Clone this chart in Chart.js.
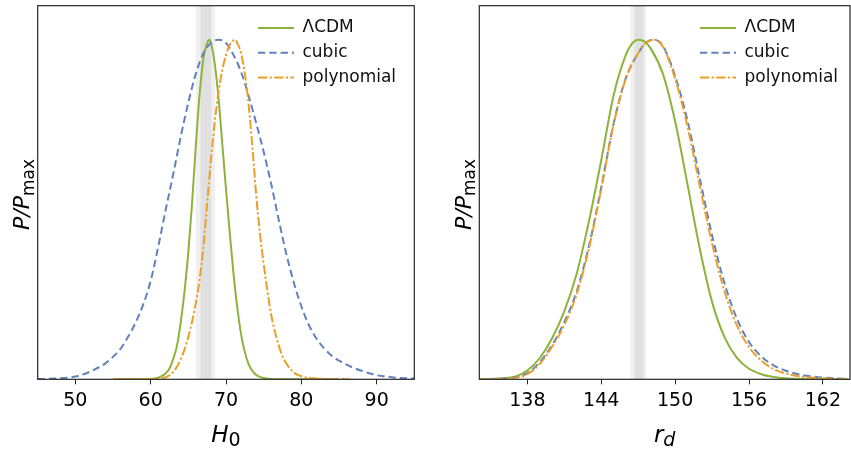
<!DOCTYPE html>
<html><head><meta charset="utf-8">
<script src="https://cdn.jsdelivr.net/npm/chart.js@4/dist/chart.umd.min.js"></script>
<style>
html,body{margin:0;padding:0;background:#fff;}
#wrap{position:relative;width:851px;height:449px;overflow:hidden;background:#fff;}
canvas{position:absolute;top:0;}
#c1{left:0;} #c2{left:425px;}
</style></head><body>
<div id="wrap"><canvas id="c1" width="425" height="449"></canvas><canvas id="c2" width="426" height="449"></canvas></div>
<script>
// ---------- data ----------
const seriesNames = ['ΛCDM', 'cubic', 'polynomial'];

// Left panel: H0
const h0Range = [45, 95];
const h0Ticks = [50, 60, 70, 80, 90];
const h0BandOuter = [66.0, 68.56];
const h0BandInner = [66.61, 68.03];

const h0LcdmX = [55, 58, 60, 61, 61.5, 62, 62.5, 63, 63.5, 64, 64.5, 65, 65.5, 66, 66.5, 67, 67.5, 67.8, 68, 68.5, 69, 69.5, 70, 70.5, 71, 71.5, 72, 72.5, 73, 73.5, 74, 74.5, 75, 76, 78, 85];
const h0LcdmP = [0, 0, 0.001, 0.005, 0.01, 0.018, 0.032, 0.06, 0.1, 0.17, 0.26, 0.375, 0.52, 0.69, 0.84, 0.945, 0.99, 1.0, 0.99, 0.93, 0.83, 0.695, 0.56, 0.43, 0.31, 0.21, 0.133, 0.08, 0.045, 0.025, 0.013, 0.007, 0.004, 0.001, 0, 0];

const h0CubicX = [45, 46, 47, 48, 49, 50, 51, 52, 53, 54, 55, 56, 57, 58, 59, 60, 61, 62, 63, 64, 65, 66, 67, 68, 69, 70, 71, 72, 73, 74, 75, 76, 77, 78, 79, 80, 81, 82, 83, 84, 85, 86, 87, 88, 89, 90, 91, 92, 93, 94, 95];
const h0CubicP = [0.001, 0.001, 0.002, 0.003, 0.005, 0.008, 0.014, 0.023, 0.034, 0.047, 0.066, 0.09, 0.125, 0.167, 0.22, 0.29, 0.39, 0.5, 0.605, 0.715, 0.815, 0.9, 0.96, 0.99, 1.0, 0.99, 0.955, 0.905, 0.835, 0.755, 0.67, 0.575, 0.47, 0.37, 0.285, 0.215, 0.16, 0.12, 0.092, 0.07, 0.055, 0.043, 0.033, 0.025, 0.018, 0.012, 0.009, 0.006, 0.004, 0.003, 0.002];

const h0PolyX = [55, 58, 60, 61, 62, 62.5, 63, 63.5, 64, 64.5, 65, 65.5, 66, 66.5, 67, 67.5, 68, 68.5, 69, 69.5, 70, 70.5, 71, 71.2, 71.5, 72, 72.5, 73, 73.5, 74, 74.5, 75, 75.5, 76, 76.5, 77, 77.5, 78, 78.5, 79, 80, 81, 82, 84, 87];
const h0PolyP = [0, 0.001, 0.001, 0.002, 0.006, 0.012, 0.022, 0.038, 0.06, 0.088, 0.125, 0.17, 0.225, 0.295, 0.39, 0.52, 0.645, 0.755, 0.845, 0.91, 0.955, 0.985, 0.998, 1.0, 0.99, 0.96, 0.9, 0.81, 0.685, 0.545, 0.43, 0.34, 0.26, 0.19, 0.14, 0.1, 0.068, 0.047, 0.032, 0.02, 0.009, 0.004, 0.002, 0.001, 0];

// Right panel: r_d
const rdRange = [134.1, 164.2];
const rdTicks = [138, 144, 150, 156, 162];
const rdBandOuter = [146.38, 147.65];
const rdBandInner = [146.7, 147.43];

const rdLcdmX = [134, 135, 136, 137, 138, 139, 140, 141, 142, 143, 144, 145, 146, 146.5, 147, 147.5, 148, 149, 150, 151, 152, 153, 154, 155, 156, 157, 158, 159, 160, 161, 164];
const rdLcdmP = [0, 0.001, 0.003, 0.008, 0.026, 0.062, 0.12, 0.2, 0.31, 0.465, 0.645, 0.835, 0.955, 0.988, 1.0, 0.995, 0.975, 0.9, 0.76, 0.575, 0.385, 0.228, 0.125, 0.064, 0.031, 0.015, 0.007, 0.003, 0.001, 0, 0];

const rdCubicX = [134, 135, 136, 137, 138, 139, 140, 141, 142, 143, 144, 145, 146, 147, 147.6, 148.3, 149, 150, 151, 152, 153, 154, 155, 156, 157, 158, 159, 160, 161, 162, 163, 164];
const rdCubicP = [0, 0.001, 0.002, 0.006, 0.018, 0.05, 0.1, 0.168, 0.258, 0.392, 0.565, 0.752, 0.887, 0.96, 0.99, 1.0, 0.982, 0.893, 0.762, 0.592, 0.424, 0.284, 0.18, 0.11, 0.067, 0.041, 0.025, 0.015, 0.009, 0.005, 0.003, 0.001];

const rdPolyX = [134, 135, 136, 137, 138, 139, 140, 141, 142, 143, 144, 145, 146, 147, 147.6, 148.3, 149, 150, 151, 152, 153, 154, 155, 156, 157, 158, 159, 160, 161, 162, 163, 164];
const rdPolyP = [0, 0, 0.001, 0.004, 0.015, 0.045, 0.095, 0.16, 0.25, 0.385, 0.56, 0.75, 0.885, 0.96, 0.99, 1.0, 0.98, 0.885, 0.745, 0.57, 0.4, 0.26, 0.16, 0.095, 0.055, 0.03, 0.017, 0.009, 0.005, 0.003, 0.001, 0];

const yRange = [0, 1.1];

// ---------- styles ----------
const FONT = '"DejaVu Sans", "Liberation Sans", sans-serif';
const COLORS = ['#8cb33a', '#6182bd', '#eb9f2a'];
const DASHES = [[], [7.3, 4], [9.3, 2.3, 2.3, 2.3]];
const ORDERS = [3, 2, 1];

function pts(xs, ys) { return xs.map((x, i) => ({ x: x, y: ys[i] })); }

function drawRich(ctx, parts, cx, cy, rot) {
  ctx.save();
  ctx.translate(cx, cy);
  ctx.rotate(rot);
  ctx.textBaseline = 'alphabetic';
  ctx.textAlign = 'left';
  let w = 0;
  const ws = parts.map(p => { ctx.font = p.font; const m = ctx.measureText(p.t).width; w += m; return m; });
  let x = -w / 2;
  parts.forEach((p, i) => { ctx.font = p.font; ctx.fillText(p.t, x, p.dy); x += ws[i]; });
  ctx.restore();
}

const bandPlugin = {
  id: 'bands',
  beforeDatasetsDraw(chart, args, opts) {
    const { ctx, chartArea: a } = chart;
    const sx = chart.scales.x;
    ctx.save();
    (opts.bands || []).forEach(b => {
      const x0 = sx.getPixelForValue(b.range[0]);
      const x1 = sx.getPixelForValue(b.range[1]);
      ctx.fillStyle = b.color;
      ctx.fillRect(x0, a.top, x1 - x0, a.bottom - a.top);
    });
    ctx.restore();
  }
};

const framePlugin = {
  id: 'frame',
  afterLayout(chart, args, opts) {
    const lg = chart.legend;
    if (lg && opts.legendAt) {
      lg.left = opts.legendAt[0];
      lg.right = lg.left + lg.width;
      lg.top = opts.legendAt[1];
      lg.bottom = lg.top + 200;
    }
  },
  afterDraw(chart, args, opts) {
    const { ctx, chartArea: a } = chart;
    ctx.save();
    ctx.strokeStyle = '#262626';
    ctx.lineWidth = 1.2;
    ctx.strokeRect(a.left, a.top, a.right - a.left, a.bottom - a.top);
    ctx.fillStyle = '#000';
    drawRich(ctx, opts.xTitle, (a.left + a.right) / 2, a.bottom + 62.4, 0);
    drawRich(ctx, opts.yTitle, a.left - 8.7, (a.top + a.bottom) / 2 + 2, -Math.PI / 2);
    ctx.restore();
  }
};

const yTitleParts = [
  { t: 'P/P', font: 'italic 22px ' + FONT, dy: 0 },
  { t: 'max', font: '17px ' + FONT, dy: 4.5 }
];

function legendLabels(chart) {
  const items = Chart.defaults.plugins.legend.labels.generateLabels(chart);
  items.forEach(it => {
    const ds = chart.data.datasets[it.datasetIndex];
    it.lineDash = ds.borderDash;
    it.strokeStyle = ds.borderColor;
    it.fillStyle = 'transparent';
    it.lineWidth = ds.borderWidth;
    it.lineCap = 'butt';
    it.pointStyle = 'line';
  });
  return items;
}

function makeChart(id, xs, ys, range, ticks, outer, inner, xTitle, pad, legendAt) {
  const datasets = seriesNames.map((name, i) => ({
    label: name,
    data: pts(xs[i], ys[i]),
    borderColor: COLORS[i],
    backgroundColor: 'transparent',
    borderWidth: 2,
    borderDash: DASHES[i],
    pointRadius: 0,
    fill: false,
    cubicInterpolationMode: 'monotone',
    order: ORDERS[i]
  }));
  return new Chart(document.getElementById(id), {
    type: 'line',
    data: { datasets },
    plugins: [bandPlugin, framePlugin],
    options: {
      responsive: false,
      animation: false,
      devicePixelRatio: 1,
      layout: { padding: pad },
      plugins: {
        tooltip: { enabled: false },
        legend: {
          position: 'chartArea',
          align: 'start',
          labels: {
            font: { family: FONT, size: 17 },
            color: '#111',
            usePointStyle: true,
            pointStyle: 'line',
            pointStyleWidth: 36,
            boxWidth: 36,
            boxHeight: 17,
            padding: 7.7,
            generateLabels: legendLabels,
            sort: (a, b) => a.datasetIndex - b.datasetIndex
          }
        },
        bands: { bands: [ { range: outer, color: '#f0f0f0' }, { range: inner, color: '#e0e0e0' } ] },
        frame: { xTitle: xTitle, yTitle: yTitleParts, legendAt: legendAt }
      },
      scales: {
        x: {
          type: 'linear',
          min: range[0], max: range[1],
          afterBuildTicks: (s) => { s.ticks = ticks.map(v => ({ value: v })); },
          afterFit: (s) => { s.height = 69.7; },
          grid: { display: true, drawOnChartArea: false, drawTicks: true, tickLength: 5, color: '#262626', lineWidth: 1 },
          border: { display: false },
          ticks: { font: { family: FONT, size: 19 }, color: '#000', padding: 5, maxRotation: 0, autoSkip: false }
        },
        y: {
          type: 'linear',
          min: yRange[0], max: yRange[1],
          afterFit: (s) => { s.width = pad.yw; },
          grid: { display: false },
          border: { display: false },
          ticks: { display: false }
        }
      }
    }
  });
}

makeChart('c1',
  [h0LcdmX, h0CubicX, h0PolyX], [h0LcdmP, h0CubicP, h0PolyP],
  h0Range, h0Ticks, h0BandOuter, h0BandInner,
  [ { t: 'H', font: 'italic 23px ' + FONT, dy: 0 }, { t: '0', font: '19px ' + FONT, dy: 4.5 } ],
  { left: 0, top: 5.7, right: 10.7, bottom: 0, yw: 37.7 },
  [250.3, 11.8]);

makeChart('c2',
  [rdLcdmX, rdCubicX, rdPolyX], [rdLcdmP, rdCubicP, rdPolyP],
  rdRange, rdTicks, rdBandOuter, rdBandInner,
  [ { t: 'r', font: 'italic 23px ' + FONT, dy: 0 }, { t: 'd', font: 'italic 19px ' + FONT, dy: 4.5 } ],
  { left: 0, top: 5.7, right: 1, bottom: 0, yw: 54.3 },
  [267.3, 11.8]);
</script>
</body></html>
